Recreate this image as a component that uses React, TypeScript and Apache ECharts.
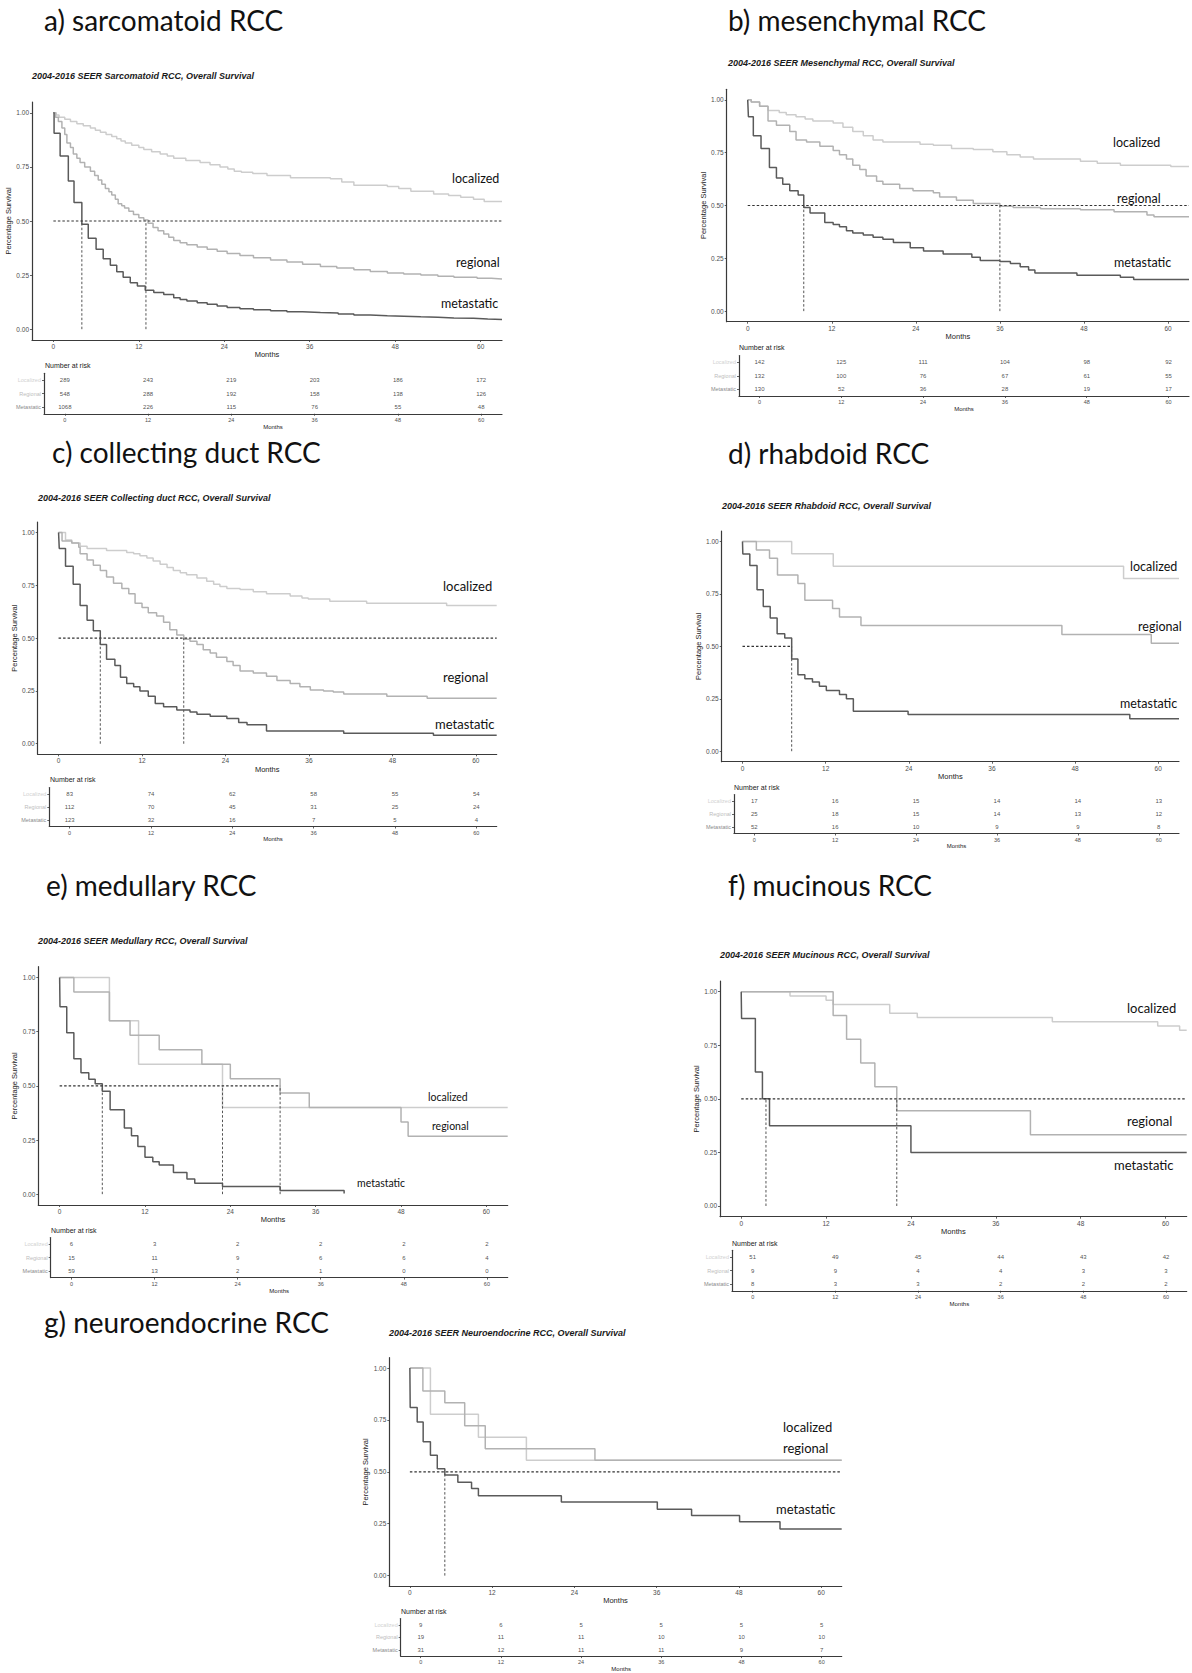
import React, { useEffect, useRef } from "react";
import * as echarts from "echarts";

// ---- shared axis ticks and group names ----
const MONTH_TICKS = [0, 12, 24, 36, 48, 60];
const SURVIVAL_TICKS = [0, 0.25, 0.5, 0.75, 1];
const STAGES = ["Localized", "Regional", "Metastatic"];
const CURVE_LABELS = ["localized", "regional", "metastatic"];

// ---- a) sarcomatoid RCC: [month, survival] ----
const sarcomatoidLocalized = [
  [0, 1], [0.4, 0.99], [0.8, 0.98], [1.6, 0.97], [2.4, 0.96], [3.3, 0.95], [4.2, 0.94], [5.2, 0.93],
  [5.9, 0.92], [6.6, 0.91], [7.4, 0.9], [8.2, 0.89], [8.9, 0.88], [9.5, 0.87], [10.1, 0.86], [11, 0.85],
  [12, 0.84], [12.7, 0.83], [13.8, 0.82], [15, 0.81], [16, 0.8], [16.9, 0.79], [18.6, 0.78], [20.6, 0.77],
  [22, 0.76], [23.4, 0.75], [24.5, 0.74], [25.4, 0.73], [26.4, 0.725], [28, 0.72], [30, 0.71], [33.3, 0.7],
  [38.9, 0.695], [40.5, 0.68], [42.2, 0.665], [46.9, 0.66], [48.5, 0.65], [50.2, 0.638], [53.4, 0.625],
  [55.5, 0.618], [57.2, 0.61], [59, 0.6], [60.5, 0.59], [63, 0.59],
];
const sarcomatoidRegional = [
  [0, 1], [0.3, 0.98], [0.7, 0.96], [1.2, 0.93], [1.6, 0.9], [1.9, 0.86], [2.4, 0.84], [2.8, 0.81],
  [3.3, 0.79], [3.75, 0.77], [4.4, 0.75], [5.2, 0.73], [5.8, 0.71], [6.3, 0.69], [6.8, 0.67], [7.3, 0.65],
  [7.8, 0.635], [8.2, 0.62], [8.7, 0.6], [9.1, 0.58], [9.6, 0.57], [10, 0.56], [10.6, 0.545], [11.25, 0.53],
  [12, 0.515], [12.7, 0.505], [13.3, 0.49], [14, 0.47], [14.7, 0.455], [15.5, 0.44], [16.2, 0.425],
  [16.9, 0.41], [17.8, 0.4], [18.75, 0.39], [20.2, 0.38], [21.6, 0.37], [23, 0.36], [24.4, 0.35],
  [26.2, 0.34], [28.1, 0.33], [30.5, 0.32], [32.8, 0.31], [35, 0.3], [37.5, 0.29], [39.8, 0.283],
  [42.2, 0.275], [44.5, 0.267], [46.9, 0.26], [49.2, 0.255], [51.6, 0.25], [54, 0.245], [56.25, 0.24],
  [59.5, 0.235], [61.5, 0.232], [63, 0.232],
];
const sarcomatoidMetastatic = [
  [0, 1], [0.1, 0.905], [0.95, 0.8], [2.1, 0.685], [2.9, 0.585], [4, 0.485], [4.9, 0.42], [6, 0.37],
  [7, 0.325], [8, 0.295], [8.9, 0.265], [9.8, 0.24], [10.8, 0.215], [11.8, 0.2], [12.9, 0.18], [14.1, 0.17],
  [15.5, 0.16], [16.9, 0.145], [17.8, 0.137], [18.75, 0.13], [20.2, 0.122], [21.6, 0.115], [23, 0.107],
  [24.4, 0.1], [26.2, 0.095], [28.1, 0.09], [30.5, 0.085], [32.8, 0.08], [35, 0.077], [37.5, 0.075],
  [40, 0.07], [42.2, 0.065], [44.5, 0.062], [46.9, 0.06], [49.2, 0.057], [51.6, 0.055], [54, 0.052],
  [56.25, 0.05], [59, 0.047], [61, 0.045], [63, 0.045],
];
const sarcomatoidAtRisk = [
  [289, 243, 219, 203, 186, 172],
  [548, 288, 192, 158, 138, 126],
  [1068, 226, 115, 76, 55, 48],
];
const sarcomatoidMedians = [4, 13];
const sarcomatoidMedianReach = 63;

// ---- b) mesenchymal RCC ----
const mesenchymalLocalized = [
  [0, 1], [0.5, 0.99], [1.7, 0.97], [2.9, 0.95], [4.5, 0.94], [5.5, 0.93], [6.9, 0.92], [8.2, 0.91],
  [9.3, 0.9], [12.2, 0.89], [13.6, 0.87], [15, 0.85], [16.5, 0.83], [17.9, 0.81], [19.3, 0.8], [24.6, 0.79],
  [26.5, 0.785], [29.1, 0.77], [32.2, 0.765], [35, 0.755], [37, 0.74], [38.9, 0.73], [40.8, 0.72],
  [47.5, 0.71], [49.9, 0.7], [53.2, 0.69], [60.4, 0.685], [63, 0.685],
];
const mesenchymalRegional = [
  [0, 1], [0.5, 0.99], [1.7, 0.97], [2.9, 0.9], [4.1, 0.88], [6, 0.85], [6.9, 0.81], [8.4, 0.8],
  [10.3, 0.78], [12.2, 0.76], [13.1, 0.74], [14.1, 0.72], [15, 0.69], [16, 0.67], [16.9, 0.64],
  [18.4, 0.615], [19.3, 0.6], [21.7, 0.58], [23.6, 0.57], [26.5, 0.56], [27.4, 0.54], [29.8, 0.525],
  [32.2, 0.51], [36, 0.497], [37.9, 0.49], [41.8, 0.485], [47.5, 0.48], [52.3, 0.47], [57, 0.455],
  [58, 0.447], [63, 0.445],
];
const mesenchymalMetastatic = [
  [0, 1], [0.1, 0.92], [0.8, 0.83], [1.9, 0.77], [3.1, 0.68], [4.1, 0.63], [5, 0.6], [6, 0.57],
  [7.2, 0.55], [8, 0.49], [8.9, 0.465], [11, 0.42], [12.2, 0.41], [13.1, 0.4], [14.1, 0.38], [15, 0.37],
  [16.5, 0.36], [17.9, 0.35], [19.3, 0.34], [20.8, 0.325], [23.2, 0.3], [25.1, 0.285], [27.9, 0.27],
  [32, 0.255], [33.2, 0.24], [36, 0.235], [37.5, 0.225], [38.9, 0.21], [40.1, 0.195], [41, 0.18],
  [47, 0.17], [53.2, 0.16], [55.1, 0.15], [63, 0.15],
];
const mesenchymalAtRisk = [
  [142, 125, 111, 104, 98, 92],
  [132, 100, 76, 67, 61, 55],
  [130, 52, 36, 28, 19, 17],
];
const mesenchymalMedians = [8, 36];
const mesenchymalMedianReach = 63;

// ---- c) collecting duct RCC ----
const collectingLocalized = [
  [0, 1], [1, 0.965], [1.9, 0.95], [3.1, 0.935], [4.1, 0.925], [6.9, 0.915], [9.8, 0.905], [10.8, 0.9],
  [11.7, 0.89], [12.7, 0.88], [13.6, 0.865], [14.6, 0.85], [15.6, 0.835], [16.5, 0.82], [17.5, 0.81],
  [18.4, 0.8], [19.9, 0.785], [21.3, 0.77], [22.3, 0.755], [23.2, 0.745], [24.2, 0.735], [26.1, 0.73],
  [28, 0.72], [29.9, 0.71], [33.3, 0.7], [35, 0.69], [35.9, 0.685], [39, 0.675], [44.3, 0.665],
  [55.8, 0.655], [63, 0.655],
];
const collectingRegional = [
  [0, 1], [0.5, 0.96], [1.9, 0.95], [2.9, 0.93], [3.1, 0.9], [4.1, 0.87], [5, 0.845], [6, 0.82],
  [6.9, 0.79], [7.9, 0.76], [9.1, 0.735], [10.1, 0.71], [11, 0.665], [12, 0.645], [12.9, 0.62],
  [14.1, 0.605], [15.1, 0.575], [16, 0.54], [17, 0.515], [18, 0.495], [18.9, 0.485], [19.9, 0.47],
  [20.8, 0.445], [21.8, 0.43], [22.7, 0.41], [24.2, 0.39], [25.1, 0.37], [26.1, 0.345], [28, 0.335],
  [29.9, 0.32], [31.4, 0.3], [33.3, 0.285], [34.7, 0.27], [36.2, 0.255], [38.1, 0.25], [39.5, 0.245],
  [41, 0.235], [47.2, 0.225], [53, 0.215], [63, 0.215],
];
const collectingMetastatic = [
  [0, 1], [0.1, 0.925], [1, 0.84], [2.1, 0.755], [3.1, 0.655], [4.1, 0.585], [5, 0.535], [6, 0.47],
  [6.9, 0.4], [8.1, 0.37], [8.9, 0.315], [9.8, 0.285], [10.8, 0.27], [11.7, 0.25], [12.9, 0.225],
  [13.9, 0.19], [15.1, 0.175], [17, 0.16], [18.9, 0.15], [19.9, 0.14], [21.8, 0.13], [24.2, 0.12],
  [25.9, 0.1], [27.1, 0.09], [29.9, 0.06], [41, 0.05], [53.9, 0.04], [63, 0.04],
];
const collectingAtRisk = [
  [83, 74, 62, 58, 55, 54],
  [112, 70, 45, 31, 25, 24],
  [123, 32, 16, 7, 5, 4],
];
const collectingMedians = [6, 18];
const collectingMedianReach = 63;

// ---- d) rhabdoid RCC ----
const rhabdoidLocalized = [[0, 1], [7.1, 0.941], [13.1, 0.882], [55, 0.824], [63, 0.824]];
const rhabdoidRegional = [
  [0, 1], [2, 0.96], [3.9, 0.92], [5.05, 0.84], [8, 0.8], [9, 0.72], [13, 0.68], [14, 0.64],
  [17.1, 0.6], [46.1, 0.557], [59, 0.515], [63, 0.515],
];
const rhabdoidMetastatic = [
  [0, 1], [0.05, 0.94], [1.06, 0.885], [2.1, 0.77], [3, 0.69], [4, 0.635], [5, 0.56], [6.1, 0.54],
  [7.1, 0.44], [8, 0.365], [9, 0.345], [10.1, 0.33], [11.1, 0.31], [12.1, 0.29], [14, 0.27], [15, 0.25],
  [16, 0.19], [23.9, 0.175], [55.9, 0.155], [63, 0.155],
];
const rhabdoidAtRisk = [
  [17, 16, 15, 14, 14, 13],
  [25, 18, 15, 14, 13, 12],
  [52, 16, 10, 9, 9, 8],
];
const rhabdoidMedians = [7.1];
const rhabdoidMedianReach = 7.1;

// ---- e) medullary RCC ----
const medullaryLocalized = [[0, 1], [7, 0.8], [11.1, 0.6], [22.9, 0.4], [63, 0.4]];
const medullaryRegional = [
  [0, 1], [2, 0.933], [7, 0.8], [9.9, 0.733], [14, 0.667], [20, 0.6], [24, 0.533], [31, 0.467],
  [35.1, 0.4], [48, 0.333], [49, 0.267], [63, 0.267],
];
const medullaryMetastatic = [
  [0, 1], [0.05, 0.865], [1, 0.745], [2, 0.625], [3, 0.56], [4.1, 0.53], [5, 0.51], [6, 0.475],
  [7.1, 0.39], [9.1, 0.305], [10.1, 0.27], [11, 0.22], [12, 0.17], [13.1, 0.15], [14, 0.135], [16, 0.1],
  [17.9, 0.07], [19, 0.05], [22.9, 0.035], [31, 0.017], [40, 0.003],
];
const medullaryAtRisk = [
  [6, 3, 2, 2, 2, 2],
  [15, 11, 9, 6, 6, 4],
  [59, 13, 2, 1, 0, 0],
];
const medullaryMedians = [6, 22.9, 31];
const medullaryMedianReach = 31;

// ---- f) mucinous RCC ----
const mucinousLocalized = [
  [0, 1], [6.9, 0.98], [12, 0.96], [13, 0.94], [21, 0.9], [24.9, 0.88], [44, 0.86], [58.9, 0.84],
  [62, 0.82], [63, 0.82],
];
const mucinousRegional = [
  [0, 1], [13, 0.889], [14.9, 0.778], [16.9, 0.667], [18.9, 0.556], [22, 0.444], [40.9, 0.333], [63, 0.333],
];
const mucinousMetastatic = [[0, 1], [0.05, 0.875], [2, 0.625], [3, 0.5], [4, 0.375], [24, 0.25], [63, 0.25]];
const mucinousAtRisk = [
  [51, 49, 45, 44, 43, 42],
  [9, 9, 4, 4, 3, 3],
  [8, 3, 3, 2, 2, 2],
];
const mucinousMedians = [3.5, 22];
const mucinousMedianReach = 63;

// ---- g) neuroendocrine RCC ----
const neuroendocrineLocalized = [[0, 1], [3, 0.778], [10, 0.667], [17, 0.556], [63, 0.556]];
const neuroendocrineRegional = [[0, 1], [1.9, 0.889], [5.1, 0.833], [8, 0.722], [11, 0.611], [27, 0.556], [63, 0.556]];
const neuroendocrineMetastatic = [
  [0, 1], [0.05, 0.81], [1.07, 0.74], [1.94, 0.645], [3, 0.58], [4, 0.515], [5.1, 0.485], [7, 0.45],
  [9, 0.42], [10, 0.385], [22.1, 0.355], [36.1, 0.32], [41.1, 0.29], [48.1, 0.26], [54, 0.225], [63, 0.225],
];
const neuroendocrineAtRisk = [
  [9, 6, 5, 5, 5, 5],
  [19, 11, 11, 10, 10, 10],
  [31, 12, 11, 11, 9, 7],
];
const neuroendocrineMedians = [5.1];
const neuroendocrineMedianReach = 63;

// ---- styling ----
const CURVE_COLORS = ["#cdcdcd", "#b2b2b2", "#5a5a5a"];
const STAGE_LABEL_COLORS = ["#d2d2d2", "#bdbdbd", "#8a8a8a"];
const AXIS_COLOR = "#3a3a3a";
const TICK_TEXT = "#4d4d4d";
const SANS = "Liberation Sans";
const HEADING_FONT = "Lato";

type Box = { left: number; top: number; width: number; height: number };
type Pt = [number, number];
interface PanelLayout {
  heading: Pt;
  subtitle: Pt;
  km: Box;
  table: Box;
  riskTitle: Pt;
  labels: Pt[];
  labelSize: number;
}

const PANELS = [
  {
    heading: "a) sarcomatoid RCC",
    subtitle: "2004-2016 SEER Sarcomatoid RCC, Overall Survival",
    curves: [sarcomatoidLocalized, sarcomatoidRegional, sarcomatoidMetastatic],
    atRisk: sarcomatoidAtRisk,
    medians: sarcomatoidMedians,
    medianReach: sarcomatoidMedianReach,
    layout: {
      heading: [44, 20], subtitle: [32, 76],
      km: { left: 32, top: 102, width: 470, height: 238 },
      table: { left: 44, top: 373.25, width: 458, height: 40.5 },
      riskTitle: [45, 365],
      labels: [[452, 178], [456, 262], [441, 303]], labelSize: 12.5,
    } as PanelLayout,
  },
  {
    heading: "b) mesenchymal RCC",
    subtitle: "2004-2016 SEER Mesenchymal RCC, Overall Survival",
    curves: [mesenchymalLocalized, mesenchymalRegional, mesenchymalMetastatic],
    atRisk: mesenchymalAtRisk,
    medians: mesenchymalMedians,
    medianReach: mesenchymalMedianReach,
    layout: {
      heading: [728, 20], subtitle: [728, 63],
      km: { left: 726.7, top: 89.3, width: 462.3, height: 232.4 },
      table: { left: 739, top: 355.5, width: 450, height: 40.5 },
      riskTitle: [739, 347],
      labels: [[1113, 142], [1117, 198], [1114, 262]], labelSize: 12.5,
    } as PanelLayout,
  },
  {
    heading: "c) collecting duct RCC",
    subtitle: "2004-2016 SEER Collecting duct RCC, Overall Survival",
    curves: [collectingLocalized, collectingRegional, collectingMetastatic],
    atRisk: collectingAtRisk,
    medians: collectingMedians,
    medianReach: collectingMedianReach,
    layout: {
      heading: [52, 452], subtitle: [38, 498],
      km: { left: 37.7, top: 522, width: 459, height: 232.3 },
      table: { left: 49.3, top: 787.5, width: 447.4, height: 39 },
      riskTitle: [50, 779],
      labels: [[443, 586], [443, 677], [435, 724]], labelSize: 13,
    } as PanelLayout,
  },
  {
    heading: "d) rhabdoid RCC",
    subtitle: "2004-2016 SEER Rhabdoid RCC, Overall Survival",
    curves: [rhabdoidLocalized, rhabdoidRegional, rhabdoidMetastatic],
    atRisk: rhabdoidAtRisk,
    medians: rhabdoidMedians,
    medianReach: rhabdoidMedianReach,
    layout: {
      heading: [728, 453], subtitle: [722, 506],
      km: { left: 721.7, top: 531, width: 457.3, height: 230.7 },
      table: { left: 734, top: 794.5, width: 445, height: 39 },
      riskTitle: [734, 787],
      labels: [[1130, 566], [1138, 626], [1120, 703]], labelSize: 12.5,
    } as PanelLayout,
  },
  {
    heading: "e) medullary RCC",
    subtitle: "2004-2016 SEER Medullary RCC, Overall Survival",
    curves: [medullaryLocalized, medullaryRegional, medullaryMetastatic],
    atRisk: medullaryAtRisk,
    medians: medullaryMedians,
    medianReach: medullaryMedianReach,
    layout: {
      heading: [46, 885], subtitle: [38, 941],
      km: { left: 38.3, top: 966.7, width: 469.4, height: 238.3 },
      table: { left: 50.7, top: 1237.6, width: 457, height: 40 },
      riskTitle: [51, 1230],
      labels: [[428, 1097], [432, 1126], [357, 1183]], labelSize: 10.5,
    } as PanelLayout,
  },
  {
    heading: "f) mucinous RCC",
    subtitle: "2004-2016 SEER Mucinous RCC, Overall Survival",
    curves: [mucinousLocalized, mucinousRegional, mucinousMetastatic],
    atRisk: mucinousAtRisk,
    medians: mucinousMedians,
    medianReach: mucinousMedianReach,
    layout: {
      heading: [728, 885], subtitle: [720, 955],
      km: { left: 720, top: 981, width: 466.7, height: 235.7 },
      table: { left: 732, top: 1250.25, width: 454.7, height: 40.5 },
      riskTitle: [732, 1243],
      labels: [[1127, 1008], [1127, 1121], [1114, 1165]], labelSize: 13,
    } as PanelLayout,
  },
  {
    heading: "g) neuroendocrine RCC",
    subtitle: "2004-2016 SEER Neuroendocrine RCC, Overall Survival",
    curves: [neuroendocrineLocalized, neuroendocrineRegional, neuroendocrineMetastatic],
    atRisk: neuroendocrineAtRisk,
    medians: neuroendocrineMedians,
    medianReach: neuroendocrineMedianReach,
    layout: {
      heading: [44, 1322], subtitle: [389, 1333],
      km: { left: 389.3, top: 1357.7, width: 452.4, height: 228.3 },
      table: { left: 400.7, top: 1618.6, width: 441, height: 38.5 },
      riskTitle: [401, 1611],
      labels: [[783, 1427], [783, 1448], [776, 1509]], labelSize: 13,
    } as PanelLayout,
  },
];

function monthAxis(gridIndex: number, labelSize: number, nameSize: number, nameGap: number) {
  return {
    type: "value",
    gridIndex,
    min: -3,
    max: 63,
    axisLine: { show: true, onZero: false, lineStyle: { color: AXIS_COLOR, width: 1.2 } },
    axisTick: { show: true, length: 2, customValues: MONTH_TICKS, lineStyle: { color: AXIS_COLOR, width: 0.8 } },
    axisLabel: { customValues: MONTH_TICKS, fontSize: labelSize, color: TICK_TEXT, margin: 3, fontFamily: SANS },
    splitLine: { show: false },
    name: "Months",
    nameLocation: "middle",
    nameGap,
    nameTextStyle: { fontSize: nameSize, color: "#222", fontFamily: SANS },
  };
}

function survivalAxis(gridIndex: number) {
  return {
    type: "value",
    gridIndex,
    min: -0.05,
    max: 1.05,
    axisLine: { show: true, onZero: false, lineStyle: { color: AXIS_COLOR, width: 1.2 } },
    axisTick: { show: true, length: 2, customValues: SURVIVAL_TICKS, lineStyle: { color: AXIS_COLOR, width: 0.8 } },
    axisLabel: {
      customValues: SURVIVAL_TICKS,
      fontSize: 6.5,
      color: TICK_TEXT,
      margin: 3,
      fontFamily: SANS,
      formatter: (v: number) => v.toFixed(2),
    },
    splitLine: { show: false },
    name: "Percentage Survival",
    nameLocation: "middle",
    nameRotate: 90,
    nameGap: 12,
    nameTextStyle: { fontSize: 7.5, color: "#222", fontFamily: SANS },
  };
}

function stageAxis(gridIndex: number) {
  return {
    type: "category",
    gridIndex,
    data: STAGES,
    inverse: true,
    axisLine: { show: true, onZero: false, lineStyle: { color: AXIS_COLOR, width: 1.2 } },
    axisTick: { show: true, length: 2, alignWithLabel: true, lineStyle: { color: AXIS_COLOR, width: 0.8 } },
    axisLabel: {
      fontSize: 5.5,
      margin: 3,
      fontFamily: SANS,
      color: (_v: string, idx: number) => STAGE_LABEL_COLORS[idx],
    },
    splitLine: { show: false },
  };
}

function buildOption() {
  const grid: any[] = [];
  const xAxis: any[] = [];
  const yAxis: any[] = [];
  const series: any[] = [];
  const graphic: any[] = [];

  PANELS.forEach((panel, i) => {
    const L = panel.layout;
    const km = 2 * i;
    const tab = 2 * i + 1;

    grid.push({ ...L.km });
    grid.push({ ...L.table });
    xAxis.push(monthAxis(km, 6.5, 7.5, 9));
    yAxis.push(survivalAxis(km));
    xAxis.push(monthAxis(tab, 5.5, 6, 9));
    yAxis.push(stageAxis(tab));

    // survival curves
    panel.curves.forEach((curve, g) => {
      series.push({
        type: "line",
        xAxisIndex: km,
        yAxisIndex: km,
        data: curve,
        step: "end",
        symbol: "none",
        silent: true,
        lineStyle: { color: CURVE_COLORS[g], width: 1.5 },
        z: 2,
      });
    });

    // median survival guides
    series.push({
      type: "line",
      xAxisIndex: km,
      yAxisIndex: km,
      data: [[0, 0.5], [panel.medianReach, 0.5]],
      symbol: "none",
      silent: true,
      lineStyle: { color: "#333", width: 1.1, type: [2.5, 2] },
      z: 3,
    });
    panel.medians.forEach((m) => {
      series.push({
        type: "line",
        xAxisIndex: km,
        yAxisIndex: km,
        data: [[m, 0], [m, 0.5]],
        symbol: "none",
        silent: true,
        lineStyle: { color: "#555", width: 1, type: [2.5, 2] },
        z: 3,
      });
    });

    // number-at-risk table
    series.push({
      type: "scatter",
      xAxisIndex: tab,
      yAxisIndex: tab,
      symbolSize: 1,
      silent: true,
      itemStyle: { color: "rgba(0,0,0,0)" },
      data: panel.atRisk.flatMap((row, g) => row.map((n, j) => [MONTH_TICKS[j], g, n])),
      label: {
        show: true,
        position: "inside",
        formatter: (p: any) => String(p.value[2]),
        fontSize: 6,
        color: "#222",
        fontFamily: SANS,
      },
    });

    graphic.push({
      type: "text",
      x: L.heading[0],
      y: L.heading[1],
      style: { text: panel.heading, fontSize: 28, fontFamily: HEADING_FONT, fill: "#111", verticalAlign: "middle" },
    });
    graphic.push({
      type: "text",
      x: L.subtitle[0],
      y: L.subtitle[1],
      style: {
        text: panel.subtitle,
        fontSize: 9,
        fontFamily: SANS,
        fontWeight: "bold",
        fontStyle: "italic",
        fill: "#1a1a1a",
        verticalAlign: "middle",
      },
    });
    graphic.push({
      type: "text",
      x: L.riskTitle[0],
      y: L.riskTitle[1],
      style: { text: "Number at risk", fontSize: 7, fontFamily: SANS, fill: "#222", verticalAlign: "middle" },
    });
    CURVE_LABELS.forEach((lab, g) => {
      graphic.push({
        type: "text",
        x: L.labels[g][0],
        y: L.labels[g][1],
        style: { text: lab, fontSize: L.labelSize, fontFamily: HEADING_FONT, fill: "#111", verticalAlign: "middle" },
      });
    });
  });

  return {
    animation: false,
    backgroundColor: "#ffffff",
    textStyle: { fontFamily: SANS },
    grid,
    xAxis,
    yAxis,
    series,
    graphic,
  };
}

export default function App() {
  const ref = useRef<HTMLDivElement>(null);
  useEffect(() => {
    if (!ref.current) return;
    const chart = echarts.init(ref.current, undefined, { renderer: "svg" });
    chart.setOption(buildOption() as any);
    return () => chart.dispose();
  }, []);
  return (
    <div
      ref={ref}
      style={{ position: "absolute", left: 0, top: 0, width: 1192, height: 1673, background: "#fff" }}
    />
  );
}
